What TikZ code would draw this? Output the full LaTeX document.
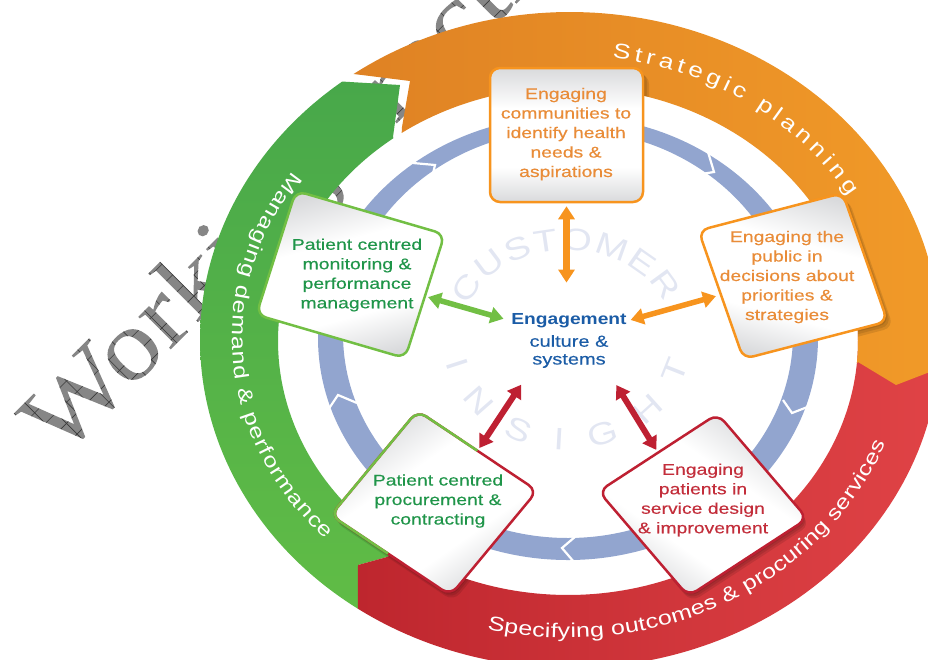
\documentclass[tikz,border=0pt]{standalone}
\usepackage{fontspec}
\usetikzlibrary{arrows.meta,decorations.text,calc,shadings}
\setmainfont{Liberation Sans}
\newfontfamily\ringfont[FakeStretch=1.25]{Liberation Sans}
\newfontfamily\boxfont[FakeStretch=1.25,FakeBold=0.35]{Liberation Sans}
\newfontfamily\boxbold[FakeStretch=1.2]{Liberation Sans Bold}
\newfontfamily\wmfont[FakeStretch=1.13]{Liberation Serif}
\definecolor{orangeA}{HTML}{DF8224}
\definecolor{orangeB}{HTML}{F19A28}
\definecolor{greenA}{HTML}{48A84A}
\definecolor{greenB}{HTML}{60BC46}
\definecolor{redA}{HTML}{BE262E}
\definecolor{redB}{HTML}{E04346}
\definecolor{blueRing}{HTML}{92A5CF}
\definecolor{boxOrange}{HTML}{F7941E}
\definecolor{boxGreen}{HTML}{72BF44}
\definecolor{boxRed}{HTML}{BE2032}
\definecolor{txtOrange}{HTML}{E98C38}
\definecolor{txtGreen}{HTML}{1F9549}
\definecolor{txtRed}{HTML}{C32E3B}
\definecolor{txtBlue}{HTML}{1B5CA6}
\definecolor{faint}{HTML}{E2E6F2}
\definecolor{wmGrey}{HTML}{868686}
\definecolor{wmLine}{HTML}{3A3A3A}
\definecolor{boxG}{HTML}{D9DADC}
\pgfdeclareverticalshading{boxsh}{100bp}{color(0bp)=(boxG); color(25bp)=(boxG); color(38bp)=(white); color(60bp)=(white); color(75bp)=(boxG); color(100bp)=(boxG)}
\pgfmathdeclarefunction{ox}{1}{\pgfmathparse{570+370*cos(#1)}}
\pgfmathdeclarefunction{oy}{1}{\pgfmathparse{340-328*sin(#1)}}
\pgfmathdeclarefunction{ix}{1}{\pgfmathparse{568+290*cos(#1)}}
\pgfmathdeclarefunction{iy}{1}{\pgfmathparse{341-254*sin(#1)}}
% hatch painted inside the outline of the watermark letters
\newcommand\wmhatch{%
  \rlap{\color{wmGrey}\kern-10pt\raisebox{-40pt}{\rule{900pt}{150pt}}}%
  \foreach \hy in {-39,-24,...,104}{\rlap{\color{wmLine}\kern-10pt\raisebox{\hy pt}{\rule{900pt}{.6pt}}}}%
  \foreach \hx in {0,15,...,884}{\rlap{\color{wmLine}\kern\hx pt\raisebox{-40pt}{\rule{.6pt}{150pt}}}}%
}
\tikzset{
  panel/.style={draw=#1,line width=2.5pt,rounded corners=10pt,shading=boxsh,inner sep=0pt},
  boxtext/.style={text=#1,align=center,inner sep=0pt,font=\boxfont\fontsize{15.5}{19.5}\selectfont},
  biarrow/.style={draw=#1,line width=5.5pt,{Stealth[length=13pt,width=16pt,inset=0pt]}-{Stealth[length=13pt,width=16pt,inset=0pt]}},
  chev/.style={draw=white,line width=2.2pt,miter limit=10},
  centretext/.style={text=txtBlue,inner sep=0pt},
  shade1/.style={fill=black,fill opacity=.10,draw=none,rounded corners=10pt,inner sep=0pt},
}
\begin{document}
\begin{tikzpicture}[x=1pt,y=-1pt,samples=90]
\useasboundingbox (0,0) rectangle (928,659);
\clip (0,0) rectangle (928,659);
% watermark
\node[rotate=45,anchor=base west,inner sep=0pt,font=\wmfont\fontsize{100}{100}\selectfont] (wm) at (60,460) {\special{pdf:code q 7 Tr}\rlap{Working\hspace{-10pt} Practice}\special{pdf:code 0 Tr}\wmhatch\special{pdf:code Q}\phantom{Working\hspace{-10pt} Practice}};
% outer ring
\shade[top color=greenA,bottom color=greenB]
  plot[domain=-125:-232] ({ox(\x)},{oy(\x)}) -- (400,85) -- (393,137)
  -- plot[domain=127:235] ({ix(\x)},{iy(\x)}) -- (387,557) -- (358,565) -- cycle;
\shade[left color=redA,right color=redB]
  plot[domain=-125:3] ({ox(\x)},{oy(\x)})
  -- plot[domain=3:-125] ({ix(\x)},{iy(\x)}) -- (387,557) -- (358,565) -- cycle;
\shade[left color=orangeA,right color=orangeB]
  plot[domain=125.8:-5] ({ox(\x)},{oy(\x)}) -- (896,385) -- (858,362)
  -- plot[domain=-5:125] ({ix(\x)},{iy(\x)}) -- (402,127) -- (410,81) -- cycle;
% shadows over the ring
\begin{scope}[even odd rule]
\clip (570,340) ellipse [x radius=372pt,y radius=330pt] (568,341) ellipse [x radius=290pt,y radius=254pt];
\foreach \d in {2,4,6}{
  \node[shade1,minimum width=153pt,minimum height=134pt] (sT\d) at (566.5+\d,135+\d) {};
  \node[shade1,cm={.967,.252,-.33,.944,(0,0)},minimum width=149pt,minimum height=136pt] (sR\d) at (793+\d,276+\d) {};
  \node[shade1,cm={.838,.546,-.65,.76,(0,0)},minimum width=142pt,minimum height=138pt] (sD\d) at (703+.5*\d,505+\d) {};
  \node[shade1,cm={.831,-.556,.638,.769,(0,0)},minimum width=144pt,minimum height=136pt] (sB\d) at (434+.5*\d,503+\d) {};
}
\end{scope}
% blue ring
\fill[blueRing,even odd rule] (568,338) ellipse [x radius=250pt,y radius=222pt] (568,334) ellipse [x radius=225pt,y radius=204pt];
\draw[chev] (708,152) -- (714,172) -- (695,175);
\draw[chev] (783,400) -- (792,413) -- (810,406);
\draw[chev] (576,536) -- (562,548) -- (574,562);
\draw[chev] (328,410) -- (338,395) -- (357,403);
\draw[chev] (413,163) -- (435,165) -- (431,182);
% faint circular words
\path[decorate,decoration={text along path,text align={fit to path},text={|\ringfont\fontsize{31}{31}\selectfont\color{faint}|CUSTOMER}}]
  plot[domain=160:22] ({567+105*cos(\x)},{335-85*sin(\x)});
\path[decorate,decoration={text along path,text align={fit to path},text={|\ringfont\fontsize{31}{31}\selectfont\color{faint}|INSIGHT}}]
  plot[domain=194:346] ({567+125*cos(\x)},{335-115*sin(\x)});
% ring labels
\path[decorate,decoration={text along path,text align={fit to path},text={|\ringfont\fontsize{21}{21}\selectfont\color{white}|Strategic planning}}]
  plot[domain=82:30] ({567+325*cos(\x)},{338-283*sin(\x)});
\path[decorate,decoration={text along path,text align={fit to path},text={|\ringfont\fontsize{20}{20}\selectfont\color{white}|Managing demand {\&} performance}}]
  plot[domain=145:224] ({567+335*cos(\x)},{338-290*sin(\x)});
\path[decorate,decoration={text along path,text align={fit to path},text={|\ringfont\fontsize{20}{20}\selectfont\color{white}|Specifying outcomes {\&} procuring services}}]
  plot[domain=256.4:339.5] ({567+340*cos(\x)},{338-300*sin(\x)});
% panels
\node[panel=boxOrange,minimum width=153pt,minimum height=134pt] (bT) at (566.5,135) {};
\node[panel=boxOrange,shading angle=-15,cm={.967,.252,-.33,.944,(0,0)},minimum width=149pt,minimum height=136pt] (bR) at (793,276) {};
\node[panel=boxGreen,shading angle=15,cm={.96,-.28,.304,.953,(0,0)},minimum width=155pt,minimum height=130pt] (bL) at (350.5,274.5) {};
\node[panel=boxRed,shading angle=-35,cm={.838,.546,-.65,.76,(0,0)},minimum width=142pt,minimum height=138pt] (bD) at (703,505) {};
\node[panel=boxRed,shading angle=35,cm={.831,-.556,.638,.769,(0,0)},minimum width=144pt,minimum height=136pt] (bB) at (434,503) {};
\begin{scope}
\clip (478,450) -- (385,557) -- (300,520) -- (330,400) -- (470,400) -- cycle;
\node[draw=boxGreen,line width=2.5pt,rounded corners=10pt,inner sep=0pt,cm={.831,-.556,.638,.769,(0,0)},minimum width=144pt,minimum height=136pt] (bBg) at (434,503) {};
\end{scope}
% panel texts
\node[boxtext=txtOrange] (tT) at (566,134) {Engaging\\communities to\\identify health\\needs \&\\aspirations};
\node[boxtext=txtOrange] (tR) at (787,277) {Engaging the\\public in\\decisions about\\priorities \&\\strategies};
\node[boxtext=txtGreen] (tL) at (357,275) {Patient centred\\monitoring \&\\performance\\management};
\node[boxtext=txtGreen] (tB) at (438,501) {Patient centred\\procurement \&\\contracting};
\node[boxtext=txtRed] (tD) at (703,500) {Engaging\\patients in\\service design\\\& improvement};
% centre
\node[centretext,font=\boxbold\fontsize{16}{16}\selectfont] (engT) at (569,321) {Engagement};
\node[centretext,font=\boxfont\fontsize{16}{16}\selectfont] (engC) at (569,341) {culture \&};
\node[centretext,font=\boxfont\fontsize{16}{16}\selectfont] (engS) at (569,361) {systems};
% connectors
\draw[biarrow=boxOrange,line width=7pt,shorten <=3pt,shorten >=31pt] (bT.south) -- (bT.south |- engT.north);
\draw[biarrow=boxOrange,shorten <=4pt,shorten >=4pt] (bR.west) -- (engT.east);
\draw[biarrow=boxGreen,shorten <=2pt,shorten >=8pt] (bL.east) -- (engT.west);
\draw[biarrow=boxRed,line width=6pt,shorten <=2pt,shorten >=20pt] (bB.north) -- (engS.south west);
\draw[biarrow=boxRed,line width=6pt,shorten <=2pt,shorten >=20pt] (bD.north) -- (engS.south east);
\end{tikzpicture}
\end{document}
